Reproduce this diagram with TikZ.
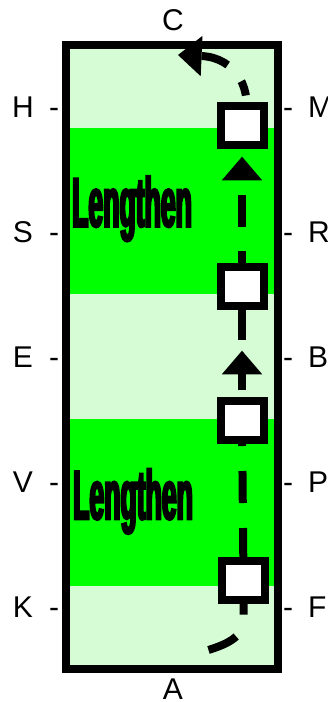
\documentclass[tikz,border=0pt]{standalone}
\usepackage{fontspec}
\setmainfont{Liberation Sans}
\newfontfamily\lenfont{Liberation Sans}[UprightFont={* Bold},FakeStretch=0.38,FakeBold=3]
\usetikzlibrary{arrows.meta}
\pgfdeclarelayer{bg}
\pgfdeclarelayer{lines}
\pgfsetlayers{bg,lines,main}
\definecolor{lightg}{RGB}{213,252,213}
\definecolor{brightg}{RGB}{0,255,0}
\begin{document}
\begin{tikzpicture}[x=1pt,y=-1pt,
  box/.style={draw=black,fill=white,line width=8pt,minimum width=43pt,minimum height=39pt,inner sep=0pt,outer sep=0pt},
  lbl/.style={font=\fontsize{30}{30}\selectfont,inner sep=0pt,anchor=base},
  lbr/.style={lbl,anchor=base west},
  len/.style={font=\lenfont\fontsize{70}{70}\selectfont,inner sep=0pt,anchor=base west},
  flow/.style={line width=8pt,draw=black},
  headtip/.style={-{Triangle[length=23.6pt,width=40.4pt,line width=0pt]}}
]
\useasboundingbox (0,0) rectangle (328,702);

% boxes
\node[box] (b1) at (242,125.5) {};
\node[box] (b2) at (242,286.5) {};
\node[box] (b3) at (242,420) {};
\node[box] (b4) at (243.5,580.5) {};
\coordinate (s0) at (208.5,650);
\coordinate (m1) at (242,350.7);
\coordinate (tipc) at (178,55);

\begin{pgfonlayer}{bg}
  \fill[lightg] (66,45) rectangle (278,669);
  \fill[brightg] (66,128) rectangle (278,294);
  \fill[brightg] (66,419) rectangle (278,586);
  \node[len] (len1) at (72,226.7) {Lengthen};
  \node[len] (len2) at (73,519.3) {Lengthen};
  \draw[line width=8pt] (66,45) rectangle (278,669);
\end{pgfonlayer}

\begin{pgfonlayer}{lines}
  \draw[flow,dash pattern=on 31pt off 24pt on 80pt] (s0) .. controls (224,645) and (243.5,638) .. (243.5,620) -- (b4.center);
  \draw[flow,dash pattern=on 32pt off 25pt,dash phase=36.5pt] (b4.center) -- (b3.center);
  \draw[flow,headtip,dash pattern=on 40pt off 30pt,dash phase=40pt] (b3.center) -- (m1);
  \draw[flow,dash pattern=on 80pt off 10.7pt,dash phase=80pt] (m1) -- (b2.center);
  \draw[flow,headtip,shorten >=11.7pt,dash pattern=on 35.5pt off 24pt on 32pt off 100pt] (b2.center) -- (b1.south);
  \draw[flow,headtip,dash pattern=on 15pt off 21.4pt on 60pt off 30.6pt,dash phase=96.4pt] (b1.center) .. controls (256,90) and (235,57.5) .. (tipc);
\end{pgfonlayer}

% labels
\node[lbl] (lc) at (173,30.3) {C};
\node[lbl] (la) at (173,699.5) {A};
\node[lbl] (lh) at (23,117.3) {H};
\node[lbl] (ls) at (23,242.3) {S};
\node[lbl] (le) at (23,367.3) {E};
\node[lbl] (lv) at (23,492.3) {V};
\node[lbl] (lk) at (23,617.3) {K};
\node[lbl] (dh) at (54,117.3) {-};
\node[lbl] (ds) at (54,242.3) {-};
\node[lbl] (de) at (54,367.3) {-};
\node[lbl] (dv) at (54,492.3) {-};
\node[lbl] (dk) at (54,617.3) {-};
\node[lbl] (dm) at (288,117.3) {-};
\node[lbl] (dr) at (288,242.3) {-};
\node[lbl] (db) at (288,367.3) {-};
\node[lbl] (dp) at (288,492.3) {-};
\node[lbl] (df) at (288,617.3) {-};
\node[lbr] (lm) at (308,117.3) {M};
\node[lbr] (lr) at (308,242.3) {R};
\node[lbr] (lb) at (308,367.3) {B};
\node[lbr] (lp) at (308,492.3) {P};
\node[lbr] (lf) at (308,617.3) {F};
\end{tikzpicture}
\end{document}
